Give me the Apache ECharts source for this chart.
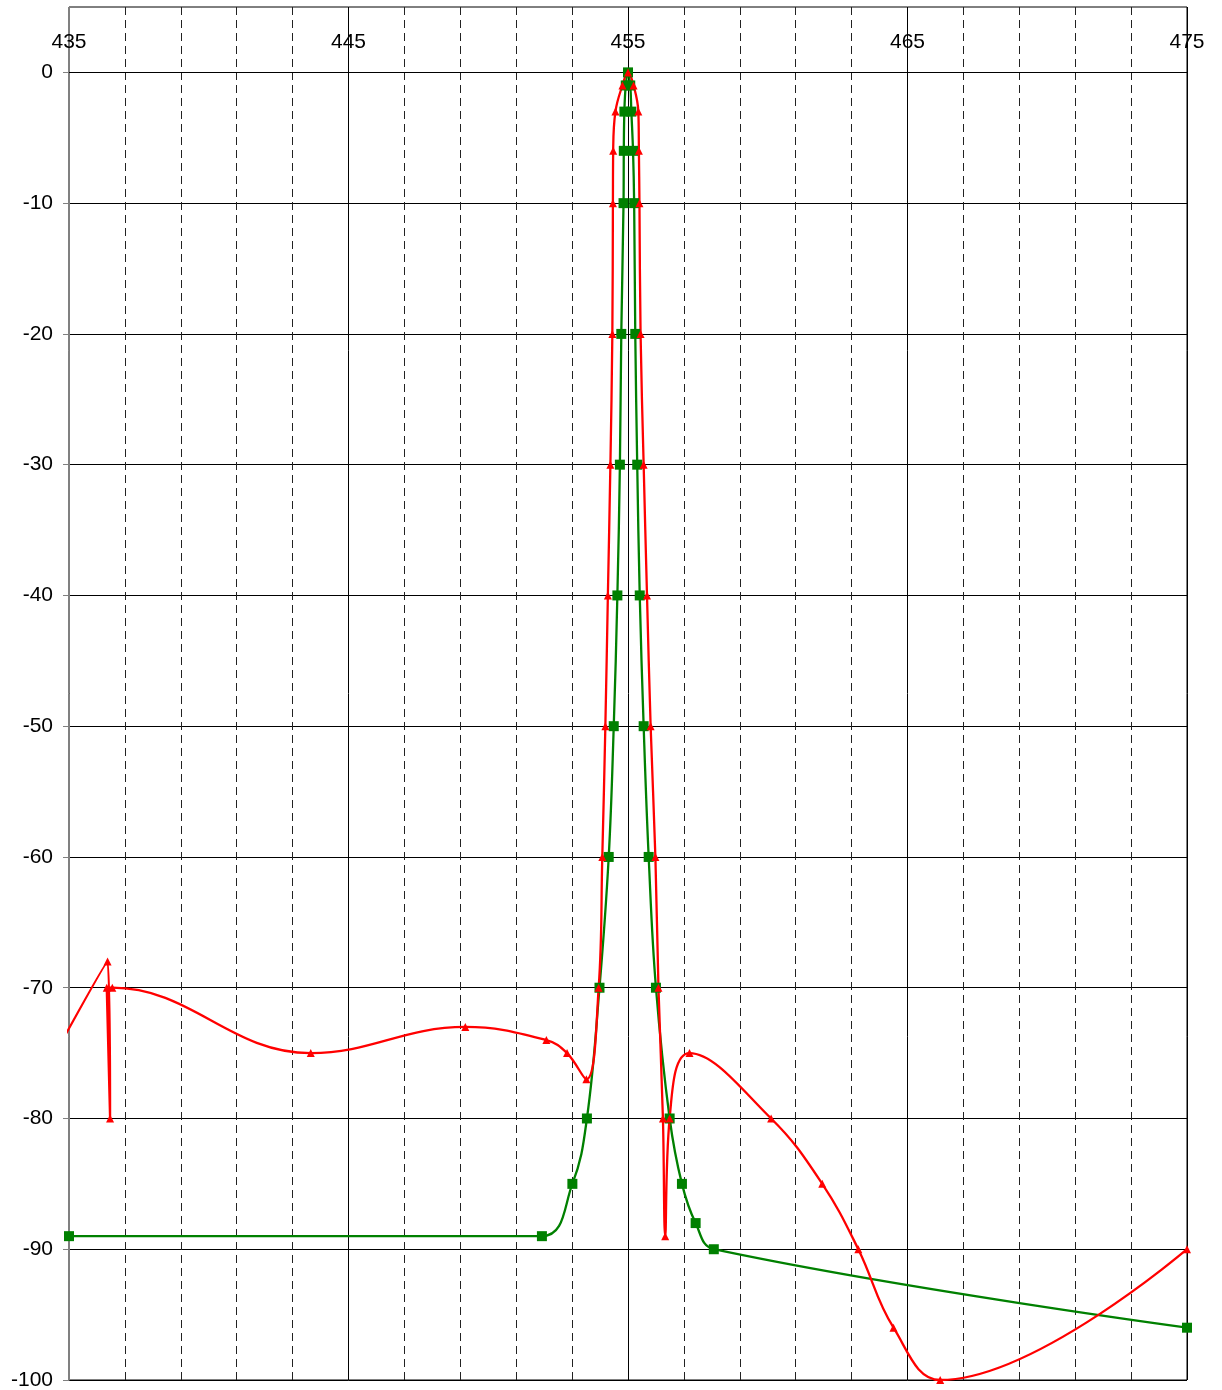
<!DOCTYPE html>
<html><head><meta charset="utf-8">
<script src="https://cdn.jsdelivr.net/npm/echarts@6/dist/echarts.min.js"></script>
<style>html,body{margin:0;padding:0;background:#fff}#c{width:1222px;height:1390px}</style>
</head><body><div id="c"></div>
<script>
// X tick labels (shown above the 0 line) and Y tick labels
const xTickLabels = [435, 445, 455, 465, 475];
const yTickLabels = [-100, -90, -80, -70, -60, -50, -40, -30, -20, -10, 0];

// Green series (square markers)
const greenX = [435, 451.92, 453.01, 453.53, 453.98, 454.31, 454.49, 454.62, 454.71, 454.76, 454.84, 454.85, 454.87, 454.92, 455,
                455.08, 455.12, 455.18, 455.22, 455.26, 455.33, 455.42, 455.56, 455.74, 456.0, 456.49, 456.93, 457.42, 458.07, 475];
const greenY = [-89, -89, -85, -80, -70, -60, -50, -40, -30, -20, -10, -6, -3, -1, 0,
                -1, -3, -6, -10, -20, -30, -40, -50, -60, -70, -80, -85, -88, -90, -96];

// Red series (triangle markers); first point lies left of the visible range
const redX = [434, 436.38, 436.47, 436.35, 436.55, 443.65, 449.18, 452.08, 452.82, 453.51, 453.95, 454.08, 454.19, 454.28, 454.37,
              454.44, 454.46, 454.47, 454.55, 454.8, 455, 455.2, 455.37, 455.39, 455.41, 455.45, 455.56, 455.68, 455.81, 455.98,
              456.09, 456.25, 456.33, 456.49, 457.2, 460.12, 461.95, 463.24, 464.5, 466.17, 475];
const redY = [-77, -68, -80, -70, -70, -75, -73, -74, -75, -77, -70, -60, -50, -40, -30,
              -20, -10, -6, -3, -1, 0, -1, -3, -6, -10, -20, -30, -40, -50, -60,
              -70, -80, -89, -80, -75, -80, -85, -90, -96, -100, -90];

const FONT = "'Liberation Sans', Arial, sans-serif";
const GRID_TOP = 7, GRID_BOTTOM = 10, H = 1390;
const yMin = yTickLabels[0], yMax = 5;
// distance (px) from the grid top down to the y = 0 line
const zeroOffset = (H - GRID_TOP - GRID_BOTTOM) * (yMax - 0) / (yMax - yMin);

const chart = echarts.init(document.getElementById('c'), null, {renderer: 'canvas'});
chart.setOption({
  animation: false,
  backgroundColor: '#fff',
  grid: {left: 69, right: 35, top: GRID_TOP, bottom: GRID_BOTTOM, show: true, borderColor: '#000', borderWidth: 1, containLabel: false, outerBoundsMode: 'none'},
  xAxis: {
    type: 'value', position: 'top', offset: -zeroOffset,
    min: xTickLabels[0], max: xTickLabels[xTickLabels.length - 1], interval: 10,
    axisLine: {show: true, onZero: false, lineStyle: {color: '#000', width: 1}},
    axisTick: {show: false},
    axisLabel: {show: true, fontSize: 21, fontFamily: FONT, color: '#000', margin: 20},
    splitLine: {show: true, lineStyle: {color: '#000', width: 1}},
    minorTick: {show: false, splitNumber: 5},
    minorSplitLine: {show: true, lineStyle: {color: '#222', width: 1, type: [8, 5]}}
  },
  yAxis: {
    type: 'value', min: yMin, max: yMax, interval: 10,
    axisLine: {show: true, onZero: false, lineStyle: {color: '#808080', width: 1}},
    axisTick: {show: true, length: 6, lineStyle: {color: '#808080'}, customValues: yTickLabels},
    axisLabel: {fontSize: 21, fontFamily: FONT, color: '#000', margin: 16,
      formatter: v => (yTickLabels.indexOf(v) >= 0 ? String(v) : '')},
    splitLine: {show: true, lineStyle: {color: '#000', width: 1}}
  },
  series: [
    {
      type: 'line', name: 'green', smooth: 0.4, clip: true,
      data: greenX.map((x, i) => [x, greenY[i]]),
      symbol: 'rect', symbolSize: 10,
      itemStyle: {color: '#008000'},
      lineStyle: {color: '#008000', width: 2.3}
    },
    {
      type: 'line', name: 'red', smooth: 0.4, clip: true,
      data: redX.map((x, i) => [x, redY[i]]),
      symbol: 'triangle', symbolSize: 8,
      itemStyle: {color: '#ff0000'},
      lineStyle: {color: '#ff0000', width: 2.3}
    }
  ]
});
</script>
</body></html>
